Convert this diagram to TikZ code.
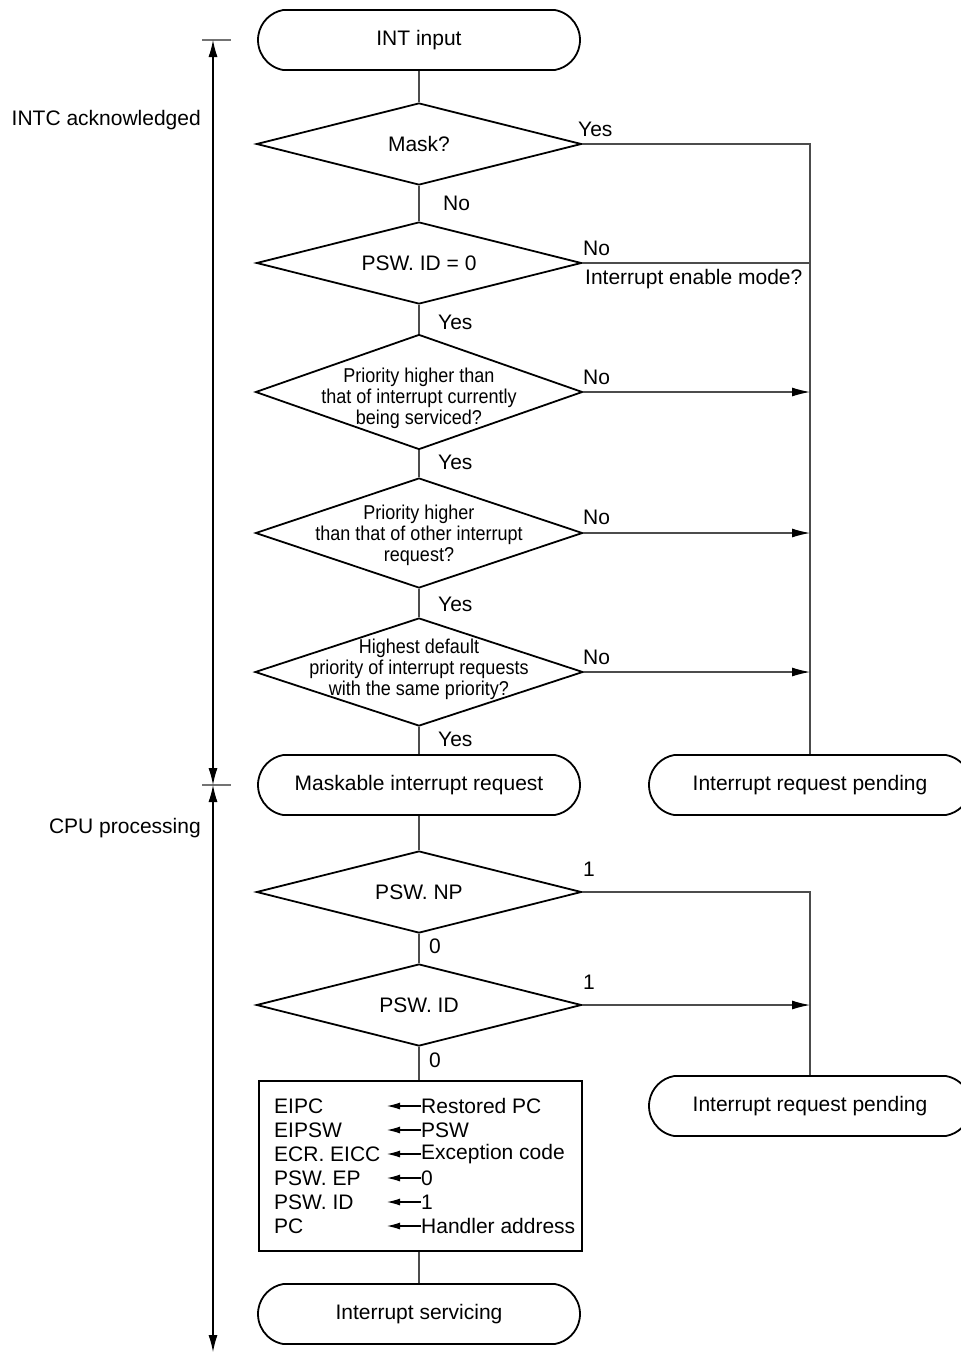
\documentclass[tikz,border=0pt]{standalone}
\usepackage{fontspec}
\setmainfont{Liberation Sans}
\newfontfamily\narrowf[FakeStretch=0.9]{Liberation Sans}
\usetikzlibrary{shapes.geometric,shapes.misc,arrows.meta}
\begin{document}
\begin{tikzpicture}[x=1pt,y=-1pt,
 term/.style={rounded rectangle, rounded rectangle arc length=160, draw, line width=1.8pt, minimum width=322pt, minimum height=60pt, inner sep=0pt, font=\fontsize{21}{25}\selectfont},
 dia/.style={diamond, draw, line width=1.8pt, inner sep=0pt},
 txt/.style={font=\fontsize{21}{25}\selectfont, inner sep=0pt},
 dtxt/.style={font=\narrowf\fontsize{20}{21}\selectfont, align=center, inner sep=0pt},
 conn/.style={line width=1.1pt, black!70},
 arr/.style={conn, -{Latex[length=18pt,width=9pt,color=black]}},
 darr/.style={line width=1.1pt, {Latex[length=17pt,width=9pt]}-{Latex[length=17pt,width=9pt]}},
 tick/.style={line width=1.1pt, black!55},
 boxarr/.style={line width=1.1pt, -{Latex[length=13pt,width=7pt]}},
 lbl/.style={txt, anchor=west},
]
\useasboundingbox (0,0) rectangle (961,1352);

% terminators
\node[term] (t1) at (419,40) {INT input};
\node[term] (m1) at (419,785) {Maskable interrupt request};
\node[term] (p1) at (810,785) {Interrupt request pending};
\node[term] (p2) at (810,1106) {Interrupt request pending};
\node[term] (t2) at (419,1314) {Interrupt servicing};

% diamonds
\node[dia, minimum width=325pt, minimum height=82pt] (d1) at (419,144) {};
\node[txt] at (d1) {Mask?};
\node[dia, minimum width=325pt, minimum height=82pt] (d2) at (419,263) {};
\node[txt] at (d2) {PSW. ID = 0};
\node[dia, minimum width=327pt, minimum height=115pt] (d3) at (419,392) {};
\node[dtxt] at (419,398) {Priority higher than\\that of interrupt currently\\being serviced?};
\node[dia, minimum width=327pt, minimum height=110pt] (d4) at (419,533) {};
\node[dtxt] at (419,535) {Priority higher\\than that of other interrupt\\request?};
\node[dia, minimum width=328pt, minimum height=108pt] (d5) at (419,672) {};
\node[dtxt] at (419,669) {Highest default\\priority of interrupt requests\\with the same priority?};
\node[dia, minimum width=325pt, minimum height=82pt] (d6) at (419,892) {};
\node[txt] at (d6) {PSW. NP};
\node[dia, minimum width=325pt, minimum height=82pt] (d7) at (419,1005) {};
\node[txt] at (d7) {PSW. ID};

% action box
\node[draw, line width=1.8pt, minimum width=323pt, minimum height=170pt, inner sep=0pt] (bx) at (420.5,1166) {};
\foreach \i/\l/\r/\y in {1/EIPC/Restored PC/1106, 2/EIPSW/PSW/1130, 3/ECR. EICC/Exception code/1154, 4/PSW. EP/0/1178, 5/PSW. ID/1/1202, 6/PC/Handler address/1226}{
  \node[lbl] (bl\i) at (274,\y) {\l};
  \node[lbl] (br\i) at (421,\y) {\r};
  \draw[boxarr] (br\i.west) -- ++(-34,0);
}

% main vertical flow
\draw[conn] (t1.south) -- (d1.north);
\draw[conn] (d1.south) -- (d2.north);
\draw[conn] (d2.south) -- (d3.north);
\draw[conn] (d3.south) -- (d4.north);
\draw[conn] (d4.south) -- (d5.north);
\draw[conn] (d5.south) -- (m1.north);
\draw[conn] (m1.south) -- (d6.north);
\draw[conn] (d6.south) -- (d7.north);
\draw[conn] (d7.south) -- (d7.south |- bx.north);
\draw[conn] (t2.north |- bx.south) -- (t2.north);

% right branches
\draw[conn] (d1.east) -- (d1.east -| p1) -- (p1.north);
\draw[conn] (d2.east) -- (d2.east -| p1);
\draw[arr] (d3.east) -- (d3.east -| p1);
\draw[arr] (d4.east) -- (d4.east -| p1);
\draw[arr] (d5.east) -- (d5.east -| p1);
\draw[conn] (d6.east) -- (d6.east -| p2) -- (p2.north);
\draw[arr] (d7.east) -- (d7.east -| p2);

% branch labels
\node[lbl] (y1) at (578,129) {Yes};
\node[lbl] (n1) at (443,203) {No};
\node[lbl] (n2) at (583,248) {No};
\node[lbl] (ie) at (585,279) {Interrupt enable mode?};
\node[lbl] (y2) at (438,322) {Yes};
\node[lbl] (n3) at (583,377) {No};
\node[lbl] (y3) at (438,462) {Yes};
\node[lbl] (n4) at (583,517) {No};
\node[lbl] (y4) at (438,604) {Yes};
\node[lbl] (n5) at (583,657) {No};
\node[lbl] (y5) at (438,739) {Yes};
\node[lbl] (o1) at (583,869) {1};
\node[lbl] (z1) at (429,946) {0};
\node[lbl] (o2) at (583,982) {1};
\node[lbl] (z2) at (429,1060) {0};

% phase markers
\coordinate (a0) at (213,40);
\coordinate (a1) at (213,785);
\coordinate (a2) at (213,1352);
\coordinate (k0l) at (202,40);
\coordinate (k0r) at (231,40);
\coordinate (k1l) at (202,785);
\coordinate (k1r) at (231,785);
\draw[tick] (k0l) -- (k0r);
\draw[tick] (k1l) -- (k1r);
\draw[darr] (a0) -- (a1);
\draw[darr] (a1) -- (a2);
\node[txt, anchor=east] (ph1) at (201,120) {INTC acknowledged};
\node[txt, anchor=east] (ph2) at (201,828) {CPU processing};
\end{tikzpicture}
\end{document}
